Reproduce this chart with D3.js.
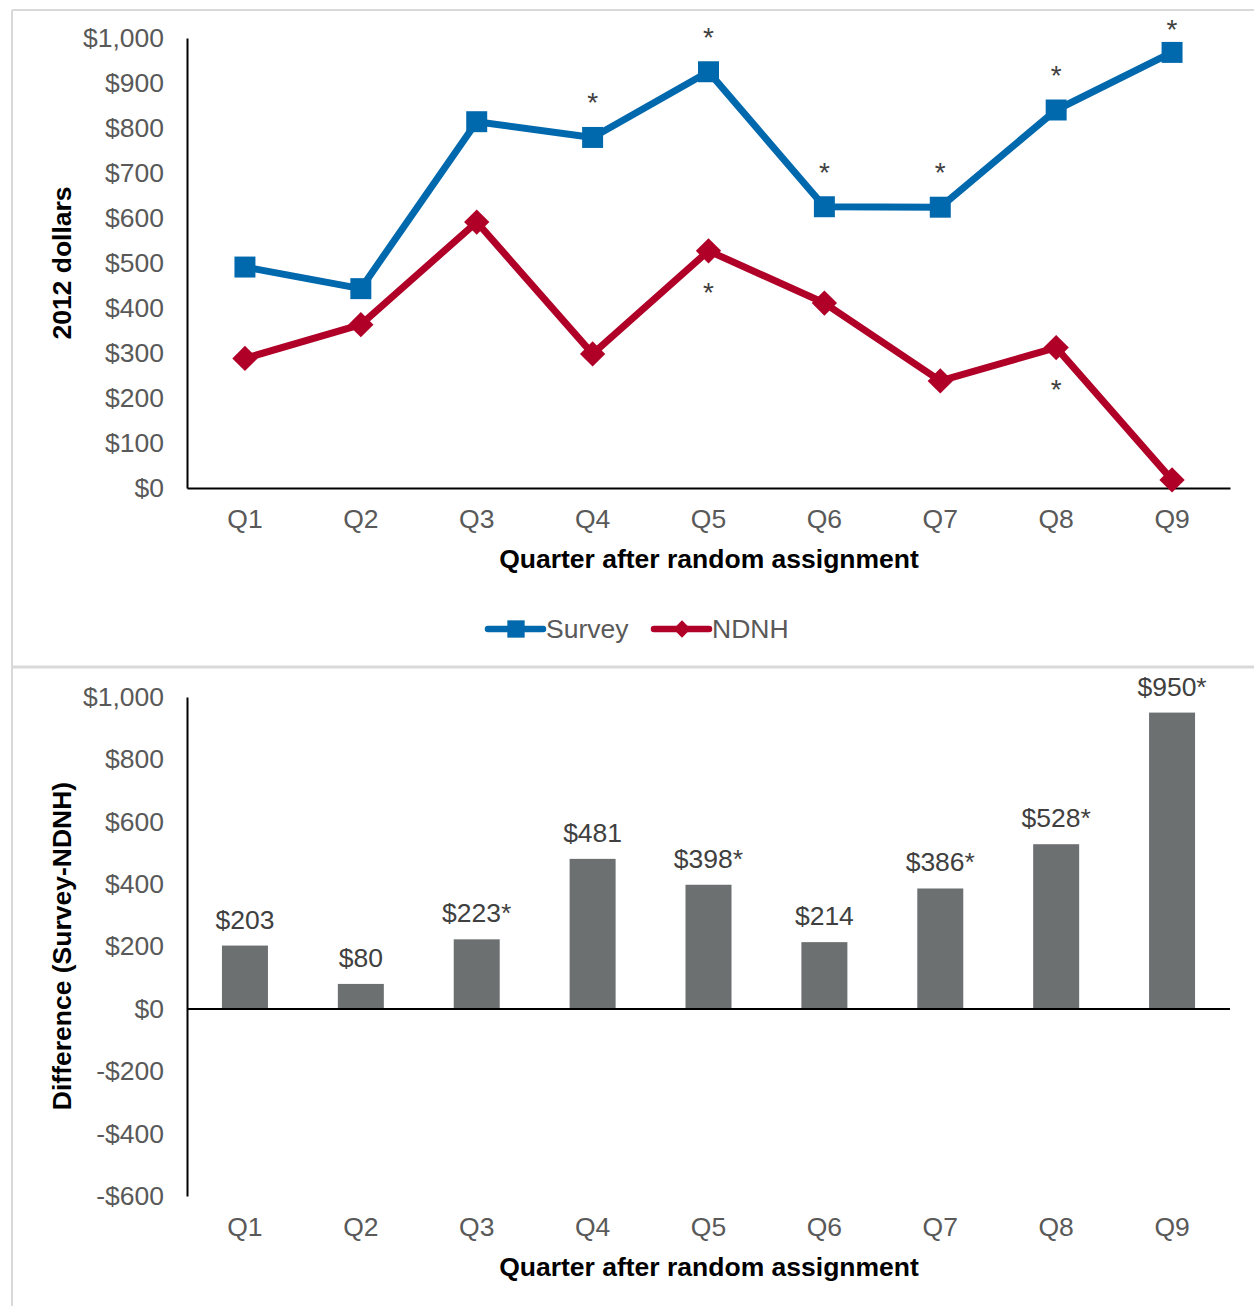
<!DOCTYPE html>
<html>
<head>
<meta charset="utf-8">
<script src="https://cdn.jsdelivr.net/npm/d3@7"></script>
<style>
  html, body { margin: 0; padding: 0; background: #fff; }
  svg { display: block; font-family: "Liberation Sans", Arial, sans-serif; }
</style>
</head>
<body>
<svg id="chart" width="1254" height="1306"></svg>
<script>
// Quarterly earnings, 2012 dollars
const quarters = ["Q1", "Q2", "Q3", "Q4", "Q5", "Q6", "Q7", "Q8", "Q9"];
const surveyValues = [491, 443, 814, 779, 925, 625, 624, 840, 968];
const ndnhValues = [288, 363, 591, 298, 527, 411, 238, 312, 18];
// significance flags (asterisks) for each series
const surveySig = [false, false, false, true, true, true, true, true, true];
const ndnhSig = [false, false, false, false, true, false, false, true, false];
// difference Survey - NDNH
const diffValues = [203, 80, 223, 481, 398, 214, 386, 528, 950];
const diffLabels = ["$203", "$80", "$223*", "$481", "$398*", "$214", "$386*", "$528*", "$950*"];
const topTicks = [0, 100, 200, 300, 400, 500, 600, 700, 800, 900, 1000];
const bottomTicks = [-600, -400, -200, 0, 200, 400, 600, 800, 1000];

const svg = d3.select("#chart");
const blue = "#0068AD", red = "#B00028", barGray = "#6D7071";
const tickColor = "#595959", labelColor = "#404040";
const FS = 26.5;
const fmt = v => (v < 0 ? "-$" : "$") + d3.format(",")(Math.abs(v));

// panel frames
const frame = svg.append("g").attr("fill", "none").attr("stroke", "#D9D9D9").attr("stroke-width", 2);
frame.append("line").attr("x1", 12).attr("x2", 1254).attr("y1", 10).attr("y2", 10);
frame.append("line").attr("x1", 12).attr("x2", 12).attr("y1", 10).attr("y2", 1306);
frame.append("line").attr("x1", 12).attr("x2", 1254).attr("y1", 667).attr("y2", 667).attr("stroke-width", 3);

const x = d3.scaleBand().domain(quarters).range([187, 1230]);
const cx = q => x(q) + x.bandwidth() / 2;

// ---------- upper panel: line chart ----------
const yTop = d3.scaleLinear().domain([0, 1000]).range([488, 38]);
const upper = svg.append("g");

const yAxisTop = upper.append("g").attr("transform", "translate(187,0)")
  .call(d3.axisLeft(yTop).tickValues(topTicks).tickFormat(fmt).tickSize(0).tickPadding(23));
const xAxisTop = upper.append("g").attr("transform", "translate(0,488)")
  .call(d3.axisBottom(x).tickSize(0).tickPadding(21));
[yAxisTop, xAxisTop].forEach(a => {
  a.select(".domain").attr("stroke", "#000").attr("stroke-width", 2);
  a.selectAll("text").attr("fill", tickColor).attr("font-size", FS).attr("font-family", "Liberation Sans, Arial, sans-serif");
});

upper.append("text").attr("x", 709).attr("y", 567.5).attr("text-anchor", "middle")
  .attr("font-size", FS).attr("font-weight", "bold").attr("fill", "#000")
  .text("Quarter after random assignment");
upper.append("text").attr("transform", "translate(71,263) rotate(-90)").attr("text-anchor", "middle")
  .attr("font-size", FS).attr("font-weight", "bold").attr("fill", "#000")
  .text("2012 dollars");

const line = d3.line().x((d, i) => cx(quarters[i])).y(d => yTop(d));
upper.append("path").datum(ndnhValues).attr("d", line)
  .attr("fill", "none").attr("stroke", red).attr("stroke-width", 7).attr("stroke-linejoin", "round");
upper.append("path").datum(surveyValues).attr("d", line)
  .attr("fill", "none").attr("stroke", blue).attr("stroke-width", 7).attr("stroke-linejoin", "round");

const square = d3.symbol().type(d3.symbolSquare).size(440);
const diamond = d3.symbol().type(d3.symbolSquare).size(320);
upper.selectAll(".sq").data(surveyValues).join("path")
  .attr("d", square).attr("fill", blue)
  .attr("transform", (d, i) => `translate(${cx(quarters[i])},${yTop(d)})`);
upper.selectAll(".dm").data(ndnhValues).join("path")
  .attr("d", diamond).attr("fill", red)
  .attr("transform", (d, i) => `translate(${cx(quarters[i])},${yTop(d)}) rotate(45)`);

// significance asterisks
upper.selectAll(".sa").data(surveyValues.map((v, i) => ({v, i})).filter(d => surveySig[d.i])).join("text")
  .attr("x", d => cx(quarters[d.i]))
  .attr("y", d => Math.max(yTop(d.v) - 41, 23) + 16)
  .attr("text-anchor", "middle").attr("font-size", 28).attr("fill", labelColor).text("*");
upper.selectAll(".na").data(ndnhValues.map((v, i) => ({v, i})).filter(d => ndnhSig[d.i])).join("text")
  .attr("x", d => cx(quarters[d.i]))
  .attr("y", d => yTop(d.v) + 35 + 16)
  .attr("text-anchor", "middle").attr("font-size", 28).attr("fill", labelColor).text("*");

// legend
const legend = upper.append("g");
const legendItems = [
  {name: "Survey", color: blue, x0: 488, rot: 0, symSize: 300},
  {name: "NDNH", color: red, x0: 654, rot: 45, symSize: 150}
];
legendItems.forEach(it => {
  legend.append("line").attr("x1", it.x0).attr("x2", it.x0 + 55).attr("y1", 629).attr("y2", 629)
    .attr("stroke", it.color).attr("stroke-width", 6.5).attr("stroke-linecap", "round");
  legend.append("path").attr("d", d3.symbol().type(d3.symbolSquare).size(it.symSize))
    .attr("fill", it.color).attr("transform", `translate(${it.x0 + 28},629) rotate(${it.rot})`);
  legend.append("text").attr("x", it.x0 + 58).attr("y", 638).attr("font-size", FS)
    .attr("fill", tickColor).text(it.name);
});

// ---------- lower panel: difference bars ----------
const yBot = d3.scaleLinear().domain([-600, 1000]).range([1196, 697]);
const lower = svg.append("g");

const yAxisBot = lower.append("g").attr("transform", "translate(187,0)")
  .call(d3.axisLeft(yBot).tickValues(bottomTicks).tickFormat(fmt).tickSize(0).tickPadding(23));
yAxisBot.select(".domain").attr("stroke", "#000").attr("stroke-width", 2);
yAxisBot.selectAll("text").attr("fill", tickColor).attr("font-size", FS).attr("font-family", "Liberation Sans, Arial, sans-serif");

lower.selectAll(".bar").data(diffValues).join("rect")
  .attr("x", (d, i) => cx(quarters[i]) - 23).attr("width", 46)
  .attr("y", d => yBot(Math.max(0, d))).attr("height", d => Math.abs(yBot(d) - yBot(0)))
  .attr("fill", barGray);

lower.append("line").attr("x1", 187).attr("x2", 1230).attr("y1", yBot(0)).attr("y2", yBot(0))
  .attr("stroke", "#000").attr("stroke-width", 2);

lower.selectAll(".bl").data(diffValues).join("text")
  .attr("x", (d, i) => cx(quarters[i]))
  .attr("y", d => yBot(d) - 17)
  .attr("text-anchor", "middle").attr("font-size", FS).attr("fill", labelColor)
  .text((d, i) => diffLabels[i]);

lower.selectAll(".xl").data(quarters).join("text")
  .attr("x", q => cx(q)).attr("y", 1236).attr("text-anchor", "middle")
  .attr("font-size", FS).attr("fill", tickColor).text(q => q);

lower.append("text").attr("x", 709).attr("y", 1276).attr("text-anchor", "middle")
  .attr("font-size", FS).attr("font-weight", "bold").attr("fill", "#000")
  .text("Quarter after random assignment");
lower.append("text").attr("transform", "translate(71,946) rotate(-90)").attr("text-anchor", "middle")
  .attr("font-size", FS).attr("font-weight", "bold").attr("fill", "#000")
  .text("Difference (Survey-NDNH)");
</script>
</body>
</html>
